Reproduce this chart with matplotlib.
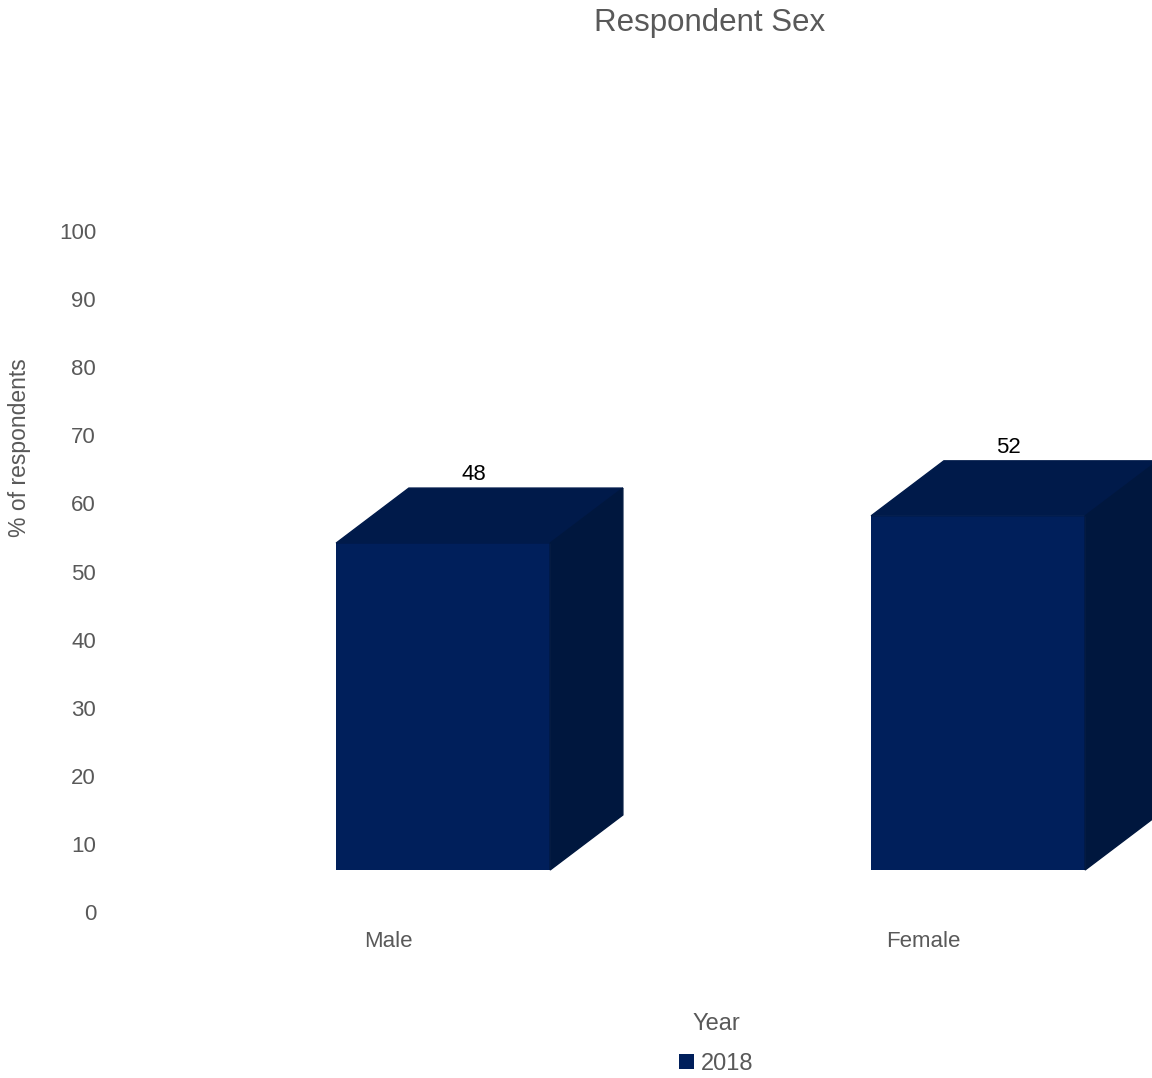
import matplotlib.pyplot as plt
from matplotlib.patches import Polygon

plt.rcParams['font.family'] = ['Liberation Sans', 'DejaVu Sans']

# Data
categories = ["Male", "Female"]
values = [48, 52]
series_name = "2018"
legend_title = "Year"

# Pseudo-3D look
front_color = "#001f5b"
top_color = "#001a4a"
side_color = "#00173e"
text_gray = "#595959"
floor = 6.17     # front face starts above the zero line
depth_x = 0.136  # back face shift, category units
depth_y = 8.08   # back face shift, value units
bar_width = 0.4
bar_shift = -0.097

W, H = 1152, 1078
fig = plt.figure(figsize=(W / 100, H / 100), dpi=100)

# axes: y=0 at px 912, y=100 at px 231; x from px 110 to 1152
left, right = 110, 1152
top, bottom = 231, 912
ax = fig.add_axes([left / W, 1 - bottom / H, (right - left) / W, (bottom - top) / H])

xpos = list(range(len(categories)))
x0 = [x + bar_shift for x in xpos]

# front faces
ax.bar(x0, values, width=bar_width, bottom=floor, align="edge",
       color=front_color, label=series_name, zorder=3)

for xl, v in zip(x0, values):
    xr = xl + bar_width
    yt = floor + v
    # top face
    ax.add_patch(Polygon([(xl, yt), (xr, yt), (xr + depth_x, yt + depth_y),
                          (xl + depth_x, yt + depth_y)],
                         closed=True, color=top_color, zorder=3))
    # side face
    ax.add_patch(Polygon([(xr, floor), (xr + depth_x, floor + depth_y),
                          (xr + depth_x, yt + depth_y), (xr, yt)],
                         closed=True, color=side_color, zorder=3))
    ax.text(xl + 0.257, yt + depth_y + 2.0, f"{v}", ha="center", va="center",
            fontsize=16, color="black")

ax.set_xlim((left - 388) / 535, (right - 388) / 535)
ax.set_ylim(0, 100)
ax.set_yticks(range(0, 101, 10))
ax.set_xticks(xpos)
ax.set_xticklabels(categories)
ax.tick_params(axis="both", length=0, labelsize=16, labelcolor=text_gray)
ax.tick_params(axis="y", pad=10)
ax.tick_params(axis="x", pad=14)
for s in ax.spines.values():
    s.set_visible(False)
ax.set_facecolor("none")

fig.text(710 / W, 1 - 23 / H, "Respondent Sex", ha="center", va="center",
         fontsize=22.5, color=text_gray)
fig.text(20 / W, 1 - 448 / H, "% of respondents", ha="center", va="center",
         rotation=90, fontsize=16.5, color=text_gray)

leg = fig.legend(loc="center", bbox_to_anchor=(716 / W, 1 - 1044 / H),
                 title=legend_title, frameon=False, fontsize=17,
                 title_fontsize=17, handlelength=0.65, handleheight=0.65,
                 handletextpad=0.3, labelspacing=0.75)
for t in leg.get_texts():
    t.set_color(text_gray)
leg.get_title().set_color(text_gray)

fig.savefig("out.png", dpi=100)
